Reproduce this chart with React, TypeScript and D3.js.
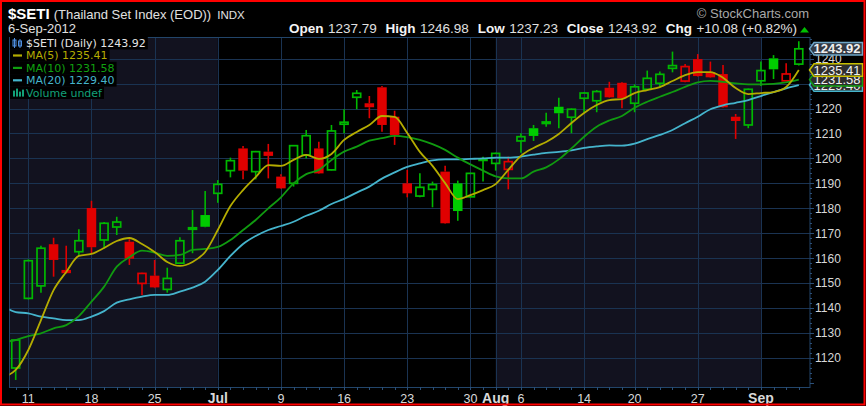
import React, { useEffect, useRef } from 'react';
import * as d3 from 'd3';

const dates = [
  '2012-06-08','2012-06-11','2012-06-12','2012-06-13','2012-06-14','2012-06-15','2012-06-18','2012-06-19','2012-06-20','2012-06-21',
  '2012-06-22','2012-06-25','2012-06-26','2012-06-27','2012-06-28','2012-06-29','2012-07-02','2012-07-03','2012-07-04','2012-07-05',
  '2012-07-06','2012-07-09','2012-07-10','2012-07-11','2012-07-12','2012-07-13','2012-07-16','2012-07-17','2012-07-18','2012-07-19',
  '2012-07-20','2012-07-23','2012-07-24','2012-07-25','2012-07-26','2012-07-27','2012-07-30','2012-07-31','2012-08-01','2012-08-03',
  '2012-08-06','2012-08-07','2012-08-08','2012-08-09','2012-08-10','2012-08-14','2012-08-15','2012-08-16','2012-08-17','2012-08-20',
  '2012-08-21','2012-08-22','2012-08-23','2012-08-24','2012-08-27','2012-08-28','2012-08-29','2012-08-30','2012-08-31','2012-09-03',
  '2012-09-04','2012-09-05','2012-09-06'
];

const opens = [1116.0,1143.9,1148.9,1165.6,1155.3,1162.6,1180.1,1167.3,1172.5,1166.6,
  1149.9,1153.0,1147.5,1158.0,1172.0,1177.3,1186.0,1195.1,1204.0,1194.7,
  1202.7,1192.7,1190.0,1201.4,1204.0,1195.4,1213.7,1224.5,1222.1,1228.5,
  1216.7,1190.0,1184.9,1187.6,1194.7,1190.0,1184.6,1199.6,1198.0,1195.6,
  1207.0,1212.1,1214.3,1220.7,1216.5,1224.1,1223.1,1228.3,1230.3,1222.1,
  1227.7,1230.1,1236.1,1231.0,1239.8,1234.5,1233.8,1216.7,1213.4,1231.1,
  1240.1,1231.1,1237.79];
const highs = [1127.5,1159.5,1165.0,1168.2,1165.0,1171.6,1183.0,1174.5,1176.6,1167.6,
  1154.2,1159.3,1156.2,1168.4,1179.3,1186.9,1191.3,1200.3,1205.0,1203.0,
  1205.8,1193.6,1205.3,1211.4,1206.7,1213.4,1219.7,1227.4,1225.0,1229.0,
  1219.1,1195.4,1194.0,1190.7,1197.1,1191.1,1194.2,1200.7,1202.3,1200.7,
  1210.1,1213.4,1218.3,1224.3,1220.0,1226.6,1227.4,1230.7,1230.6,1229.7,
  1235.2,1234.8,1242.8,1237.8,1241.8,1238.8,1237.4,1217.8,1228.0,1238.8,
  1241.4,1238.1,1246.98];
const lows = [1111.2,1143.5,1146.2,1152.6,1153.8,1160.9,1162.0,1164.0,1169.3,1157.3,
  1145.3,1148.0,1146.2,1157.8,1162.0,1172.4,1182.2,1192.4,1191.6,1191.6,
  1192.0,1187.8,1188.7,1200.0,1193.8,1195.2,1210.1,1219.7,1216.1,1210.7,
  1205.4,1184.4,1184.4,1180.4,1173.8,1175.0,1184.4,1190.7,1195.1,1187.6,
  1202.3,1207.0,1212.7,1212.1,1210.1,1218.3,1218.5,1224.3,1220.1,1218.5,
  1227.4,1228.7,1234.5,1230.5,1232.8,1232.3,1220.3,1207.8,1212.1,1229.0,
  1231.8,1231.0,1237.23];
const closes = [1127.2,1159.0,1164.0,1159.3,1154.0,1167.0,1164.4,1174.0,1174.5,1159.8,
  1153.9,1148.3,1151.9,1167.0,1172.2,1172.6,1189.6,1199.1,1195.1,1202.7,
  1201.0,1188.0,1205.1,1209.1,1194.0,1211.0,1214.5,1226.1,1220.5,1213.4,
  1209.4,1186.0,1188.4,1189.5,1174.0,1178.9,1194.0,1199.8,1202.0,1198.7,
  1208.7,1209.0,1214.6,1218.1,1219.7,1226.2,1226.8,1224.5,1224.1,1228.7,
  1232.1,1233.7,1237.2,1236.8,1233.0,1232.5,1220.5,1215.0,1227.7,1235.2,
  1235.7,1233.84,1243.92];
const firstPrevClose = 1112.0;

// moving averages, first value belongs to the session before the first candle
const ma5 = [1112.4,1115.2,1123.2,1135.2,1147.2,1154.5,1160.9,1161.7,1164.1,1166.9,1168.1,
  1165.7,1162.5,1158.5,1156.9,1158.5,1162.5,1171.3,1180.9,1187.3,1192.5,
  1197.3,1197.0,1199.4,1201.4,1199.8,1201.8,1207.4,1210.6,1213.4,1217.0,
  1216.6,1210.2,1202.6,1197.0,1190.1,1183.7,1185.3,1187.3,1189.7,1195.4,
  1201.0,1204.2,1206.6,1209.8,1214.2,1218.2,1221.4,1223.4,1223.8,1226.2,
  1227.4,1228.6,1231.0,1233.4,1234.6,1234.6,1232.3,1228.2,1225.8,1226.2,
  1226.6,1228.6,1235.41];
const ma10 = [1126.4,1127.2,1128.8,1129.9,1131.9,1133.2,1136.8,1142.6,1148.6,1156.6,1160.4,
  1163.0,1162.2,1160.9,1161.3,1163.3,1163.7,1164.5,1167.3,1171.3,1175.3,
  1180.0,1184.4,1190.0,1193.7,1195.4,1199.4,1202.7,1204.7,1207.1,1208.1,
  1209.0,1208.5,1207.4,1205.7,1203.4,1200.3,1197.6,1195.1,1192.8,1192.0,
  1192.0,1194.7,1196.4,1199.6,1204.0,1208.7,1212.7,1215.2,1217.0,1220.3,
  1222.7,1224.7,1226.6,1228.7,1230.5,1231.1,1230.7,1230.1,1229.7,1229.7,
  1229.9,1230.5,1231.58];
const ma20 = [1140.8,1138.4,1137.9,1136.6,1135.9,1135.2,1135.2,1136.6,1138.8,1142.2,1143.5,
  1144.6,1145.3,1145.3,1146.6,1148.2,1150.6,1155.3,1160.9,1165.7,1168.9,
  1171.3,1172.9,1174.6,1177.0,1179.0,1181.7,1183.8,1186.3,1188.7,1191.9,
  1194.4,1196.6,1198.0,1199.2,1199.6,1199.6,1199.8,1200.0,1200.3,1200.3,
  1200.7,1201.5,1202.2,1202.6,1203.2,1204.2,1204.8,1205.2,1205.1,1205.9,
  1207.7,1209.4,1211.4,1214.1,1216.7,1219.7,1221.3,1222.3,1223.4,1225.0,
  1226.6,1228.1,1229.40];

const tickDates = ['2012-06-11','2012-06-18','2012-06-25','2012-07-02','2012-07-09','2012-07-16','2012-07-23',
  '2012-07-30','2012-08-01','2012-08-06','2012-08-14','2012-08-20','2012-08-27','2012-09-03'];
const tickLabels = ['11','18','25','Jul','9','16','23','30','Aug','6','14','20','27','Sep'];
const monthLabels = ['Jul','Aug','Sep'];
const yTicks = [1120,1130,1140,1150,1160,1170,1180,1190,1200,1210,1220,1230,1240];

const W = 866, H = 406;
const PL = 9.5, PR = 810, PT = 37, PB = 387;
const FONT = "'Liberation Sans', Arial, sans-serif";
const LFONT = "'DejaVu Sans', Verdana, sans-serif";
const GREEN = '#00b800', GREEN_FILL = '#00cc00', RED = '#e00000';
const C5 = '#b4ac00', C10 = '#109a10', C20 = '#45b4cc';

export default function App() {
  const ref = useRef<SVGSVGElement>(null);
  useEffect(() => {
    const svg = d3.select(ref.current);
    svg.selectAll('*').remove();
    const n = closes.length;
    const x = d3.scaleLinear().domain([0, n - 1]).range([15.7, 798.8]);
    const y = d3.scaleLinear().domain([1120, 1220]).range([358, 108.5]);

    svg.append('rect').attr('width', W).attr('height', H).attr('fill', '#000');

    // month shading
    const months = dates.map(d => +d.slice(5, 7));
    const starts: number[] = [];
    months.forEach((m, i) => { if (i === 0 || m !== months[i - 1]) starts.push(i); });
    starts.forEach((s, k) => {
      if (months[s] % 2 !== 0) return;
      const x0 = k === 0 ? PL : x(s);
      const x1 = k + 1 < starts.length ? x(starts[k + 1]) : PR;
      svg.append('rect').attr('x', x0).attr('y', PT).attr('width', x1 - x0).attr('height', PB - PT).attr('fill', '#12121f');
    });

    const grid = svg.append('g').attr('stroke', '#1a3352').attr('stroke-width', 1);
    yTicks.forEach(v => {
      const yy = Math.round(y(v)) + 0.5;
      grid.append('line').attr('x1', PL).attr('x2', PR).attr('y1', yy).attr('y2', yy);
    });
    const tickIdx = tickDates.map(d => dates.indexOf(d));
    tickIdx.forEach(i => {
      const xx = Math.round(x(i)) + 0.5;
      grid.append('line').attr('x1', xx).attr('x2', xx).attr('y1', PT).attr('y2', PB);
    });

    svg.append('rect').attr('x', PL).attr('y', PT + 0.5).attr('width', PR - PL).attr('height', PB - PT)
      .attr('fill', 'none').attr('stroke', '#22456a').attr('stroke-width', 1);

    // candles
    const cg = svg.append('g');
    const bw = 9.5;
    for (let i = 0; i < n; i++) {
      const o = opens[i], c = closes[i], h = highs[i], l = lows[i];
      const prev = i === 0 ? firstPrevClose : closes[i - 1];
      const hollow = c >= o;
      const col = c >= prev ? GREEN : RED;
      const fillCol = c >= prev ? GREEN_FILL : RED;
      const cx = x(i);
      const top = y(Math.max(o, c)), bot = y(Math.min(o, c));
      cg.append('line').attr('x1', cx).attr('x2', cx).attr('y1', y(h)).attr('y2', top)
        .attr('stroke', col).attr('stroke-width', 1.6);
      cg.append('line').attr('x1', cx).attr('x2', cx).attr('y1', bot).attr('y2', y(l))
        .attr('stroke', col).attr('stroke-width', 1.6);
      const bh = Math.max(bot - top, 1.5);
      if (hollow) {
        cg.append('rect').attr('x', cx - bw / 2 + 0.8).attr('y', top).attr('width', bw - 1.6).attr('height', bh)
          .attr('fill', 'none').attr('stroke', col).attr('stroke-width', 1.7);
      } else {
        cg.append('rect').attr('x', cx - bw / 2).attr('y', top).attr('width', bw).attr('height', bh)
          .attr('fill', fillCol);
      }
    }

    // MA lines
    svg.append('clipPath').attr('id', 'plotclip').append('rect')
      .attr('x', PL).attr('y', PT).attr('width', PR - PL).attr('height', PB - PT);
    const line = d3.line<number>().x((_, i) => x(i - 1)).y(d => y(d)).curve(d3.curveMonotoneX);
    const lg = svg.append('g').attr('clip-path', 'url(#plotclip)').attr('fill', 'none');
    lg.append('path').attr('d', line(ma20)).attr('stroke', C20).attr('stroke-width', 1.8);
    lg.append('path').attr('d', line(ma10)).attr('stroke', C10).attr('stroke-width', 1.8);
    lg.append('path').attr('d', line(ma5)).attr('stroke', C5).attr('stroke-width', 1.8);

    // legend
    const legend = [
      { t: `$SETI (Daily) ${closes[n - 1].toFixed(2)}`, c: '#e4e4e4', icon: 'price', ic: '#4f8fe0' },
      { t: `MA(5) ${ma5[ma5.length - 1].toFixed(2)}`, c: C5, icon: 'line', ic: C5 },
      { t: `MA(10) ${ma10[ma10.length - 1].toFixed(2)}`, c: '#10a010', icon: 'line', ic: '#10a010' },
      { t: `MA(20) ${ma20[ma20.length - 1].toFixed(2)}`, c: C20, icon: 'line', ic: C20 },
      { t: 'Volume undef', c: '#12a078', icon: 'vol', ic: '#12a078' },
    ];
    legend.forEach((it, k) => {
      const base = 47 + k * 12.4;
      const g = svg.append('g');
      const bg = g.append('rect').attr('x', 10).attr('y', base - 10).attr('height', 12.4).attr('fill', '#000');
      const tx = g.append('text').attr('x', 26).attr('y', base).attr('font-family', LFONT).attr('font-size', 11)
        .attr('fill', it.c).text(it.t);
      const len = (tx.node() as SVGTextElement).getComputedTextLength();
      bg.attr('width', 26 + len + 2 - 10);
      const cy = base - 4;
      if (it.icon === 'line') {
        g.append('rect').attr('x', 13).attr('y', cy - 1).attr('width', 9).attr('height', 2.2).attr('fill', it.ic);
      } else if (it.icon === 'price') {
        g.append('rect').attr('x', 13).attr('y', cy - 3).attr('width', 3).attr('height', 6).attr('fill', 'none').attr('stroke', it.ic).attr('stroke-width', 1);
        g.append('line').attr('x1', 14.5).attr('x2', 14.5).attr('y1', cy - 5).attr('y2', cy + 5).attr('stroke', it.ic);
        g.append('rect').attr('x', 18.5).attr('y', cy - 2).attr('width', 3).attr('height', 5).attr('fill', 'none').attr('stroke', it.ic).attr('stroke-width', 1);
        g.append('line').attr('x1', 20).attr('x2', 20).attr('y1', cy - 4).attr('y2', cy + 5).attr('stroke', it.ic);
      } else {
        [[13, 6], [16, 8], [19, 5], [22, 7]].forEach(([bx, hh]) =>
          g.append('rect').attr('x', bx).attr('y', cy + 4 - hh).attr('width', 2).attr('height', hh).attr('fill', it.ic));
      }
    });

    // right axis
    const ax = svg.append('g');
    for (let v = 1110; v <= 1248; v += 2) {
      const yy = Math.round(y(v)) + 0.5;
      ax.append('line').attr('x1', PR).attr('x2', PR + (v % 10 === 0 ? 4 : 2)).attr('y1', yy).attr('y2', yy)
        .attr('stroke', '#2a4f78');
    }
    yTicks.forEach(v => {
      ax.append('text').attr('x', 815).attr('y', y(v) + 4.3).attr('font-family', FONT).attr('font-size', 12)
        .attr('fill', '#d8d8d8').text(String(v));
    });

    // bottom axis
    for (let i = 0; i < n; i++) {
      const xx = Math.round(x(i)) + 0.5;
      ax.append('line').attr('x1', xx).attr('x2', xx).attr('y1', PB).attr('y2', PB + 3).attr('stroke', '#2a4f78');
    }
    tickIdx.forEach((i, k) => {
      const lab = tickLabels[k];
      const isMonth = monthLabels.includes(lab);
      ax.append('text').attr('x', x(i)).attr('y', 402.5).attr('text-anchor', 'middle')
        .attr('font-family', FONT).attr('font-size', isMonth ? 14 : 12.5)
        .attr('font-weight', isMonth ? 'bold' : 'normal').attr('fill', '#d8d8d8').text(lab);
    });

    // value tags
    const tag = (v: number, stroke: string, bold: boolean, fill: string) => {
      const cy = y(v);
      const g = svg.append('g');
      g.append('path').attr('d', `M${PR - 0.5},${cy} L${PR + 4},${cy - 6.3} L862.5,${cy - 6.3} L862.5,${cy + 6.3} L${PR + 4},${cy + 6.3} Z`)
        .attr('fill', fill).attr('stroke', stroke).attr('stroke-width', 1.5);
      g.append('text').attr('x', 813.5).attr('y', cy + 4.6).attr('font-family', FONT).attr('font-size', 13)
        .attr('font-weight', bold ? 'bold' : 'normal').attr('fill', '#f0f0f0').text(v.toFixed(2));
    };
    tag(ma20[ma20.length - 1], C20, false, '#2e2e2e');
    tag(ma10[ma10.length - 1], '#10a010', false, '#2e2e2e');
    tag(ma5[ma5.length - 1], '#c8c000', false, '#2e2e2e');
    tag(closes[n - 1], '#6ea6c8', true, '#333a44');

    // header
    const hd = svg.append('g').attr('font-family', FONT);
    const t1 = hd.append('text').attr('x', 8).attr('y', 19).attr('fill', '#ffffff');
    t1.append('tspan').attr('font-weight', 'bold').attr('font-size', 15).text('$SETI');
    t1.append('tspan').attr('dx', 4).attr('font-size', 13).attr('fill', '#e0e0e0').text('(Thailand Set Index (EOD))');
    t1.append('tspan').attr('dx', 6).attr('font-size', 11.5).attr('fill', '#e0e0e0').text('INDX');
    const last = n - 1;
    hd.append('text').attr('x', 8).attr('y', 33).attr('font-size', 13).attr('fill', '#e0e0e0')
      .text(d3.timeFormat('%-d-%b-%Y')(d3.timeParse('%Y-%m-%d')(dates[last]) as Date));
    const chg = closes[last] - closes[last - 1];
    const pct = chg / closes[last - 1] * 100;
    const parts: [string, string][] = [
      ['Open', opens[last].toFixed(2)], ['High', highs[last].toFixed(2)], ['Low', lows[last].toFixed(2)],
      ['Close', closes[last].toFixed(2)], ['Chg', `${chg >= 0 ? '+' : ''}${chg.toFixed(2)} (${pct >= 0 ? '+' : ''}${pct.toFixed(2)}%)`],
    ];
    const t2 = hd.append('text').attr('x', 797).attr('y', 33).attr('text-anchor', 'end').attr('font-size', 13.5).attr('fill', '#e0e0e0');
    parts.forEach(([a, b], k) => {
      t2.append('tspan').attr('dx', k === 0 ? 0 : 8.8).attr('font-weight', 'bold').attr('fill', '#f4f4f4').text(a);
      t2.append('tspan').attr('dx', 4.5).text(b);
    });
    hd.append('path').attr('d', 'M800,32.5 L809,32.5 L804.5,27 Z').attr('fill', '#00c000');
    hd.append('text').attr('x', 809).attr('y', 18).attr('text-anchor', 'end').attr('font-size', 13)
      .attr('fill', '#a8a8a8').text('\u00A9 StockCharts.com');

    // outer red frame
    svg.append('rect').attr('x', 1).attr('y', 1).attr('width', W - 2.5).attr('height', H - 2.5)
      .attr('fill', 'none').attr('stroke', '#ff0000').attr('stroke-width', 2);
  }, []);
  return <svg ref={ref} width={W} height={H} style={{ position: 'absolute', left: 0, top: 0, display: 'block' }} />;
}
